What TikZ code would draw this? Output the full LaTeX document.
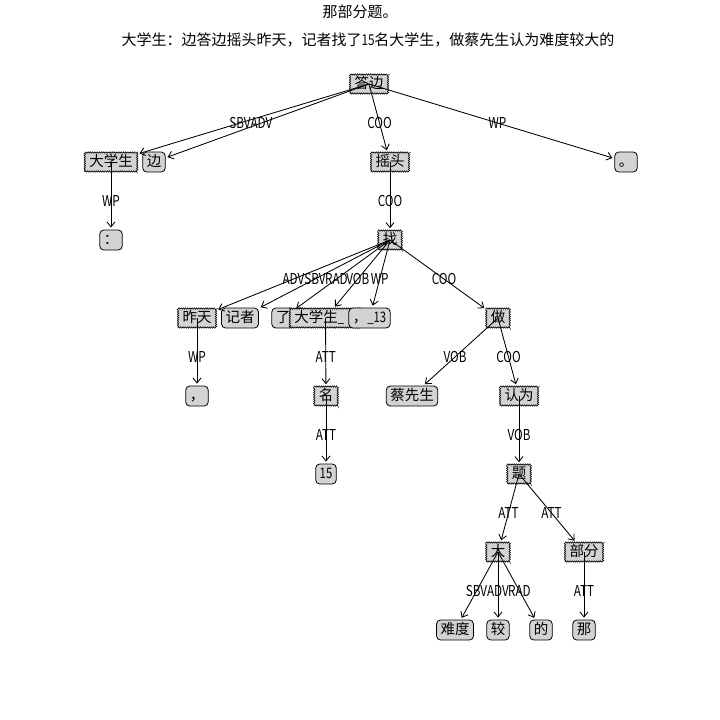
\documentclass[tikz,border=0pt]{standalone}
\usepackage{fontspec}
\setmainfont{Noto Sans CJK SC}
\newfontfamily\lblfont{Noto Sans CJK SC}[FakeStretch=0.78]
\usetikzlibrary{arrows.meta, decorations.pathmorphing}
\definecolor{boxgray}{RGB}{211,211,211}
\tikzstyle{every node} = [align = center, font = \fontsize{14.5}{16}\selectfont]
\tikzstyle{head} = [draw, fill = boxgray, line width = 0.6pt, inner xsep = 4.5pt, inner ysep = 3pt,
    text height = 11pt, text depth = 2pt,
    decorate, decoration = {zigzag, segment length = 2.2pt, amplitude = 0.7pt}]
\tikzstyle{leaf} = [draw, fill = boxgray, line width = 0.8pt, rounded corners = 4pt, inner xsep = 4pt,
    inner ysep = 3.5pt, text height = 11pt, text depth = 2pt]
\tikzstyle{dep} = [-{Straight Barb[length = 5pt, width = 8pt]}, shorten > = 2pt]
\tikzstyle{rel} = [font = \fontsize{15}{16}\lblfont]
\tikzstyle{title} = [font = \fontsize{15}{17}\selectfont]

\begin{document}
\begin{tikzpicture}[x = 1pt, y = -1pt, line width = 0.85pt]
    \useasboundingbox (0, 0) rectangle (720, 720);
    % sentence
    \node [title] (line1) at (360, 12) {那部分题。};
    \node [title] (line2) at (368, 40) {大学生：边答边摇头昨天，记者找了{\lblfont 15}名大学生，做蔡先生认为难度较大的};
    % words
    \node [head] (dabian) at (369, 84) {答边};
    \node [head] (dxsa) at (111, 162) {大学生};
    \node [leaf] (bian) at (154, 162) {边};
    \node [head] (yaotou) at (390, 162) {摇头};
    \node [leaf] (juhao) at (626, 162) {。};
    \node [leaf] (maohao) at (111, 240) {：};
    \node [head] (zhao) at (390, 240) {找};
    \node [head] (zuotian) at (197, 318) {昨天};
    \node [leaf] (jizhe) at (240, 318) {记者};
    \node [leaf] (le) at (283, 318) {了};
    \node [head] (dxsb) at (325.5, 318) {大学生{\lblfont \_}\hphantom{\lblfont 12}};
    \node [leaf] (dou13) at (369.5, 318) {，{\lblfont \_13}};
    \node [head] (zuo) at (498, 318) {做};
    \node [leaf] (douhao) at (197, 396) {，};
    \node [head] (ming) at (326, 396) {名};
    \node [leaf] (caixs) at (412, 396) {蔡先生};
    \node [head] (renwei) at (519, 396) {认为};
    \node [leaf] (num15) at (326, 474) {{\lblfont 15}};
    \node [head] (ti) at (519, 474) {题};
    \node [head] (da) at (498, 552) {大};
    \node [head] (bufen) at (584, 552) {部分};
    \node [leaf] (nandu) at (455, 630) {难度};
    \node [leaf] (jiao) at (498, 630) {较};
    \node [leaf] (de) at (541, 630) {的};
    \node [leaf] (na) at (584, 630) {那};
    % dependencies
    \foreach \p/\c/\l in {dabian/dxsa/SBV, dabian/bian/ADV, dabian/yaotou/COO, dabian/juhao/WP,
        dxsa/maohao/WP, yaotou/zhao/COO,
        zhao/zuotian/ADV, zhao/jizhe/SBV, zhao/le/RAD, zhao/dxsb/VOB, zhao/dou13/WP, zhao/zuo/COO,
        zuotian/douhao/WP, dxsb/ming/ATT, ming/num15/ATT,
        zuo/caixs/VOB, zuo/renwei/COO, renwei/ti/VOB, ti/da/ATT, ti/bufen/ATT,
        da/nandu/SBV, da/jiao/ADV, da/de/RAD, bufen/na/ATT}
    {
        \draw [dep] (\p.center) -- (\c);
        \path (\p.center) -- (\c.center) node [midway, rel] {\l};
    }
\end{tikzpicture}
\end{document}
